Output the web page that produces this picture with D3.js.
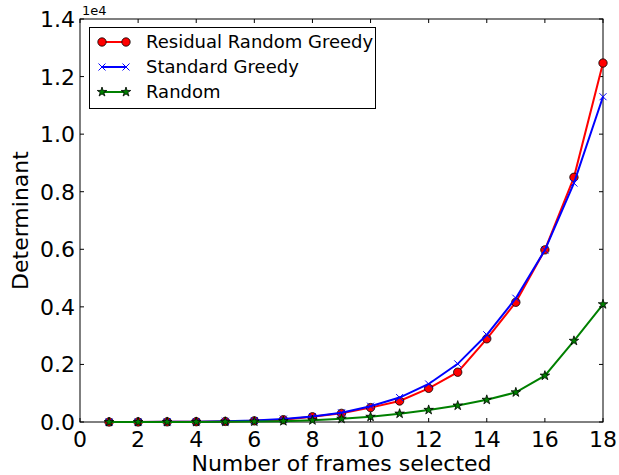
<!DOCTYPE html>
<html><head><meta charset="utf-8">
<script src="https://cdn.jsdelivr.net/npm/d3@7"></script>
<style>body{margin:0;background:#fff}svg{display:block;font-family:"DejaVu Sans",sans-serif}</style>
</head><body><svg id="c" width="619" height="475"></svg>
<script>
const frames = [1,2,3,4,5,6,7,8,9,10,11,12,13,14,15,16,17,18];
const residualRandomGreedy = [0,2,5,10,20,40,80,180,300,500,730,1170,1730,2890,4160,5980,8500,12470];
const standardGreedy = [0,2,5,12,25,50,100,190,320,550,850,1320,2020,3030,4300,5970,8300,11300];
const randomSel = [0,1,2,4,8,15,30,60,110,180,290,420,570,770,1030,1610,2820,4090];
const xTicks = [0,2,4,6,8,10,12,14,16,18];
const yTicks = [0,2000,4000,6000,8000,10000,12000,14000];
const seriesNames = ["Residual Random Greedy","Standard Greedy","Random"];

const svg = d3.select("#c");
const L=80, R=603, T=19, B=422;
const x = d3.scaleLinear().domain([0,18]).range([L,R]);
const y = d3.scaleLinear().domain([0,14000]).range([B,T]);

svg.append("rect").attr("x",L).attr("y",T).attr("width",R-L).attr("height",B-T)
  .attr("fill","#fff").attr("stroke","#000").attr("stroke-width",1);

const tk=4;
xTicks.forEach(t=>{
  svg.append("line").attr("x1",x(t)).attr("x2",x(t)).attr("y1",B).attr("y2",B-tk).attr("stroke","#000");
  svg.append("line").attr("x1",x(t)).attr("x2",x(t)).attr("y1",T).attr("y2",T+tk).attr("stroke","#000");
  svg.append("text").attr("x",x(t)).attr("y",B+25).attr("text-anchor","middle")
    .attr("font-size",22).attr("fill","#000").text(t);
});
yTicks.forEach(t=>{
  svg.append("line").attr("x1",L).attr("x2",L+tk).attr("y1",y(t)).attr("y2",y(t)).attr("stroke","#000");
  svg.append("line").attr("x1",R).attr("x2",R-tk).attr("y1",y(t)).attr("y2",y(t)).attr("stroke","#000");
  svg.append("text").attr("x",L-5).attr("y",y(t)+8).attr("text-anchor","end")
    .attr("font-size",22).attr("fill","#000").text((t/10000).toFixed(1));
});
svg.append("text").attr("x",L+2).attr("y",T-4).attr("font-size",13).attr("fill","#000").text("1e4");

svg.append("text").attr("x",(L+R)/2).attr("y",471).attr("text-anchor","middle")
  .attr("font-size",22).attr("fill","#000").text("Number of frames selected");
svg.append("text").attr("transform",`translate(28,${(T+B)/2}) rotate(-90)`).attr("text-anchor","middle")
  .attr("font-size",22).attr("fill","#000").text("Determinant");

const line = d3.line().x((d,i)=>x(frames[i])).y(d=>y(d));
const series = [
  {name:seriesNames[0], data:residualRandomGreedy, color:"#ff0000", marker:"circle"},
  {name:seriesNames[1], data:standardGreedy, color:"#0000ff", marker:"x"},
  {name:seriesNames[2], data:randomSel, color:"#008000", marker:"star"}
];
const g = svg.append("g");
function marker(sel, s, cx, cy){
  if(s.marker==="circle"){
    sel.append("circle").attr("cx",cx).attr("cy",cy).attr("r",4.2).attr("fill",s.color).attr("stroke","#000").attr("stroke-width",0.8);
  } else if(s.marker==="x"){
    const r=3.5;
    sel.append("path").attr("d",`M${cx-r},${cy-r}L${cx+r},${cy+r}M${cx-r},${cy+r}L${cx+r},${cy-r}`)
      .attr("stroke",s.color).attr("stroke-width",1);
  } else {
    sel.append("path").attr("d",d3.symbol(d3.symbolStar,28)()).attr("transform",`translate(${cx},${cy})`)
      .attr("fill",s.color).attr("stroke","#000").attr("stroke-width",0.8);
  }
}
series.forEach(s=>{
  g.append("path").datum(s.data).attr("d",line).attr("fill","none").attr("stroke",s.color).attr("stroke-width",2);
  s.data.forEach((v,i)=>marker(g,s,x(frames[i]),y(v)));
});

svg.append("rect").attr("x",89.5).attr("y",27.5).attr("width",286).attr("height",81)
  .attr("fill","#fff").attr("stroke","#000").attr("stroke-width",1);
series.forEach((s,i)=>{
  const cy=42+i*25;
  svg.append("line").attr("x1",102).attr("x2",126).attr("y1",cy).attr("y2",cy).attr("stroke",s.color).attr("stroke-width",2);
  marker(svg,s,102,cy); marker(svg,s,126,cy);
  svg.append("text").attr("x",146).attr("y",cy+6).attr("font-size",18).attr("fill","#000").text(s.name);
});
</script></body></html>
